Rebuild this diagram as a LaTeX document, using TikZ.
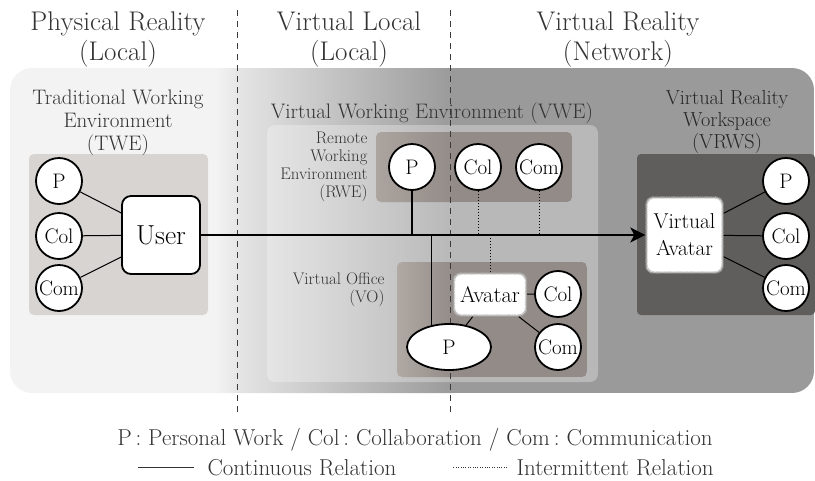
\documentclass[tikz,border=0pt]{standalone}
\usepackage{fontspec}
\usetikzlibrary{arrows.meta,calc,shapes.geometric}

\definecolor{bgL}{HTML}{F3F3F3}
\definecolor{bgM}{HTML}{E4E4E4}
\definecolor{bgR}{HTML}{9A9A9A}
\definecolor{tweFill}{HTML}{D7D4D1}
\definecolor{vrwsFill}{HTML}{5F5E5C}
\definecolor{subL}{HTML}{ABA49F}
\definecolor{subR}{HTML}{928B87}
\definecolor{txt}{HTML}{333333}
\definecolor{sepline}{HTML}{3A3A3A}

\newcommand{\fsz}[2]{\fontsize{#1}{#2}\selectfont}

\tikzset{
  region/.style={align=center, text=txt, font=\fsz{27}{29.5}, anchor=base},
  boxtitle/.style={align=center, text=txt, font=\fsz{21}{23}, anchor=base},
  sublabel/.style={align=right, text=txt, font=\fsz{16.8}{18}, anchor=base east},
  task/.style={circle, draw=black, line width=1.8pt, fill=white, minimum size=46pt,
    inner sep=0pt, font=\fsz{21}{21}},
  userbox/.style={rectangle, rounded corners=9pt, draw=black, line width=1.8pt,
    fill=white, minimum width=78pt, minimum height=78pt, inner sep=0pt, font=\fsz{27.5}{27.5}},
  avatarbox/.style={rectangle, rounded corners=7pt, draw=black!30, line width=2.4pt,
    dash pattern=on 0.5pt off 0.6pt, fill=white, inner sep=0pt, align=center},
  taskell/.style={ellipse, draw=black, line width=1.8pt, fill=white, minimum width=84pt,
    minimum height=46pt, inner sep=0pt, font=\fsz{21}{21}},
  rel/.style={draw=black, line width=1pt},
  intermit/.style={draw=black, line width=1pt, dash pattern=on 1pt off 2pt},
  legendtext/.style={text=txt, font=\fsz{23}{26}},
}

\begin{document}
\begin{tikzpicture}[x=1pt,y=-1pt]
\useasboundingbox (0,0) rectangle (815,480);

% outer backdrop: light on the left, darkening towards the network side
\begin{scope}
  \clip[rounded corners=22pt] (10,68) rectangle (814,393);
  \fill[bgL] (10,68) rectangle (216,393);
  \shade[left color=bgL, right color=bgM] (215,68) rectangle (241,393);
  \shade[left color=bgM, right color=bgR] (240,68) rectangle (453,393);
  \fill[bgR] (452,68) rectangle (814,393);
\end{scope}

% traditional working environment panel
\fill[tweFill, rounded corners=5pt] (29,154) rectangle (208,315);

% virtual working environment panel
\fill[white, opacity=0.3, rounded corners=8pt] (267,125) rectangle (598,382);

% remote working environment panel
\begin{scope}
  \clip[rounded corners=5pt] (376,132) rectangle (572,202);
  \shade[left color=subL, right color=subR] (376,132) rectangle (453,202);
  \fill[subR] (452,132) rectangle (572,202);
\end{scope}

% virtual office panel
\begin{scope}
  \clip[rounded corners=5pt] (397,262) rectangle (587,377);
  \shade[left color=subL!95!white, right color=subR] (397,262) rectangle (453,377);
  \fill[subR] (452,262) rectangle (587,377);
\end{scope}

% virtual reality workspace panel
\fill[vrwsFill, rounded corners=4pt] (637,154) rectangle (815,315);

% boundaries between the three realms
\draw[sepline, line width=0.8pt, dash pattern=on 6pt off 5pt] (237,10) -- (237,416);
\draw[sepline, line width=0.8pt, dash pattern=on 6pt off 5pt] (450,10) -- (450,416);

% realm headings (anchored on the baseline of their last line)
\node[region] (hPR) at (118,60) {Physical Reality\\(Local)};
\node[region] (hVL) at (349,60) {Virtual Local\\(Local)};
\node[region] (hVR) at (618,60) {Virtual Reality\\(Network)};

% panel titles
\node[boxtitle] (tTWE) at (118,150) {Traditional Working\\Environment\\(TWE)};
\node[boxtitle] (tVWE) at (432,118) {Virtual Working Environment (VWE)};
\node[boxtitle, text=black!85, font=\fsz{20.3}{22}] (tVRWS) at (727,148) {Virtual Reality\\Workspace\\(VRWS)};
\node[sublabel] (tRWE) at (371,197) {Remote\\Working\\Environment\\(RWE)};
\node[sublabel] (tVO) at (388,302) {Virtual Office\\(VO)};

% TWE nodes
\node[task] (p1) at (59,181) {P};
\node[task] (c1) at (59,236) {Col};
\node[task] (m1) at (59,288) {Com};
\node[userbox] (user) at (161,235) {User};

% RWE nodes
\node[task] (p2) at (412,167) {P};
\node[task] (c2) at (478,167) {Col};
\node[task] (m2) at (539,167) {Com};

% VO nodes
\node[avatarbox, minimum width=72pt, minimum height=42pt, font=\fsz{22.5}{22.5}] (av) at (490,294.5) {Avatar};
\node[task] (c3) at (558,294) {Col};
\node[task] (m3) at (558,347) {Com};
\node[taskell] (pe) at (449,347) {P};

% VRWS nodes
\node[avatarbox, minimum width=76pt, minimum height=75pt, font=\fsz{21.5}{27}] (va) at (684.5,235) {Virtual\\Avatar};
\node[task] (p4) at (786,181) {P};
\node[task] (c4) at (786,236) {Col};
\node[task] (m4) at (786,288) {Com};

% relations inside TWE
\draw[rel] (p1) -- (user.151);
\draw[rel] (c1) -- (user);
\draw[rel] (m1) -- (user.209);

% main link from the user to the virtual avatar
\draw[draw=black, line width=1.8pt, -{Stealth[length=15pt, width=15pt, inset=4pt]}]
  (user.east) -- (va.west);

% relations of the virtual working environment
\draw[draw=black, line width=1.2pt] (p2) -- (p2 |- user.east);
\draw[intermit] (c2) -- ($(c2 |- user.east)+(0,-2)$);
\draw[intermit] (m2) -- ($(m2 |- user.east)+(0,-2)$);
\draw[intermit] (av.north) -- ($(av.north |- user.east)+(0,2)$);
\draw[draw=black, line width=1.2pt] (pe.129) -- (pe.129 |- user.east);
\draw[rel] (av) -- (pe);
\draw[rel] (av) -- (c3);
\draw[rel] (av) -- (m3);

% relations inside VRWS
\draw[rel] (va.29) -- (p4);
\draw[rel] (va) -- (c4);
\draw[rel] (va.-29) -- (m4);

% legend
\node[legendtext, anchor=base] (lkey) at (415,445) {P\,:\ Personal Work / Col\,:\ Collaboration / Com\,:\ Communication};
\node[legendtext, anchor=base west] (lcont) at (204,475) {Continuous Relation};
\node[legendtext, anchor=base west] (lint) at (513,475) {Intermittent Relation};
\draw[draw=black!80, line width=1pt] ([xshift=-10pt]lcont.west) -- ([xshift=-66pt]lcont.west);
\draw[draw=black!80, line width=1pt, dash pattern=on 0.8pt off 1.6pt] ([xshift=-6pt]lint.west) -- ([xshift=-60pt]lint.west);
\end{tikzpicture}
\end{document}
